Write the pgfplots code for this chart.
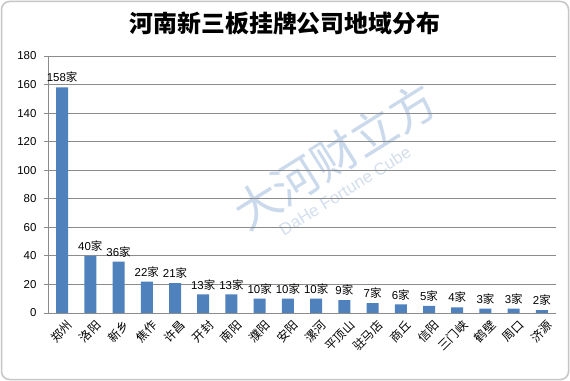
\documentclass[border=0pt]{standalone}
\usepackage{fontspec}
\setmainfont{Liberation Sans}
\newfontfamily\cjk{Noto Sans CJK SC}
\usepackage{pgfplots}
\pgfplotsset{compat=1.18}
\definecolor{barblue}{HTML}{4F81BD}
\definecolor{gridgray}{HTML}{8C8C8C}
\begin{document}
\begin{tikzpicture}
\path[use as bounding box] (0bp,0bp) rectangle (570bp,381bp);
\fill[white] (0bp,0bp) rectangle (570bp,381bp);
\draw[gray!45, line width=1.5bp, rounded corners=8bp] (1.5bp,1.5bp) rectangle (568.5bp,379.5bp);
% watermark
\node[rotate=32, text=barblue!30, font=\cjk\fontsize{46}{46}\selectfont] at (335bp,225bp) {大河财立方};
\node[rotate=32, text=barblue!25, font=\fontsize{17}{17}\selectfont] at (345bp,190bp) {DaHe Fortune Cube};
\node[font=\cjk\bfseries\fontsize{24}{24}\selectfont] at (285bp,358bp) {河南新三板挂牌公司地域分布};
\begin{axis}[
  at={(48bp,68bp)}, anchor=south west,
  scale only axis, width=508bp, height=257bp,
  xmin=-0.5, xmax=17.5, ymin=0, ymax=180,
  ytick={0,20,...,180},
  ymajorgrids, grid style={gridgray, line width=0.8bp},
  axis line style={gridgray, line width=0.8bp},
  axis x line*=bottom, axis y line*=left,
  x axis line style={-}, y axis line style={-},
  xtick={0,...,17},
  xticklabels={郑州,洛阳,新乡,焦作,许昌,开封,南阳,濮阳,安阳,漯河,平顶山,驻马店,商丘,信阳,三门峡,鹤壁,周口,济源},
  xticklabel style={font=\cjk\fontsize{12}{12}\selectfont, rotate=45, anchor=east, xshift=5bp, yshift=-10bp},
  major x tick style={draw=none},
  extra x ticks={-0.5,0.5,...,17.5},
  extra x tick labels={},
  extra x tick style={grid=none, major tick length=5bp, tick style={gridgray, line width=0.8bp}, tick align=outside},
  ytick style={gridgray, line width=0.8bp}, tick align=outside, major tick length=4bp,
  yticklabel style={font=\fontsize{11.5}{11.5}\selectfont, xshift=-4bp},
  /pgf/number format/assume math mode=true,
  nodes near coords={\pgfmathprintnumber{\pgfplotspointmeta}{\cjk 家}},
  nodes near coords style={font=\fontsize{11.5}{11.5}\selectfont, text=black, yshift=1bp},
]
\addplot[ybar, bar width=12bp, fill=barblue, draw=none] coordinates {
(0,158) (1,40) (2,36) (3,22) (4,21) (5,13) (6,13) (7,10) (8,10) (9,10) (10,9) (11,7) (12,6) (13,5) (14,4) (15,3) (16,3) (17,2)};
\end{axis}
\end{tikzpicture}
\end{document}
